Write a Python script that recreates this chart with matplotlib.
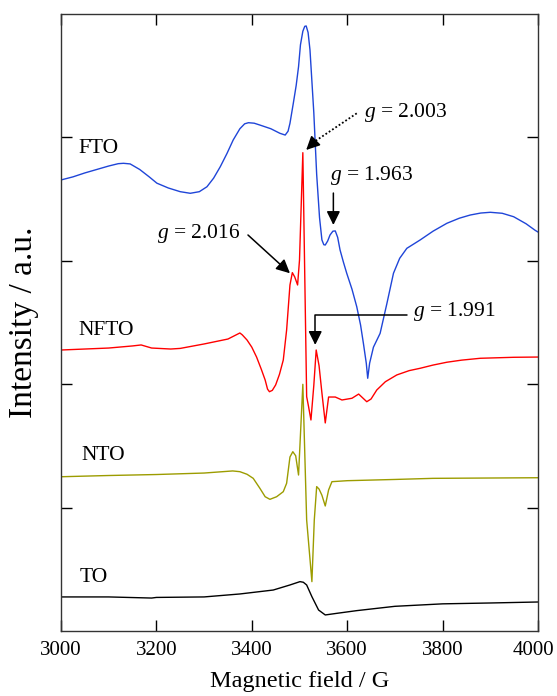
import numpy as np
import matplotlib
matplotlib.use('Agg')
import matplotlib.pyplot as plt
import matplotlib.transforms as mtransforms

plt.rcParams['font.family'] = 'Liberation Serif'
plt.rcParams['mathtext.fontset'] = 'custom'
plt.rcParams['mathtext.rm'] = 'Liberation Serif'
plt.rcParams['mathtext.it'] = 'Liberation Serif:italic'

# spectres RPE (champ en G, intensité décalée en u.a.)
field_fto = [3000, 3025, 3050, 3075, 3100, 3120, 3131, 3145, 3165, 3185, 3201, 3225, 3250, 3271,
             3290, 3306, 3320, 3334, 3348, 3361, 3375, 3385, 3393, 3405, 3417, 3440, 3459, 3470,
             3476, 3480, 3487, 3493, 3498, 3502, 3507, 3511, 3514, 3518, 3522, 3530, 3536, 3542,
             3547, 3551, 3554, 3559, 3564, 3570, 3575, 3580, 3585, 3592, 3599, 3610, 3620, 3628,
             3634, 3640, 3643, 3647, 3655, 3669, 3683, 3697, 3710, 3725, 3753, 3780, 3809, 3835,
             3858, 3880, 3900, 3925, 3949, 3975, 3994, 4000]
int_fto = [3.655, 3.680, 3.712, 3.740, 3.768, 3.787, 3.790, 3.785, 3.740, 3.680, 3.629, 3.590, 3.560, 3.547,
           3.560, 3.600, 3.670, 3.763, 3.870, 3.979, 4.070, 4.110, 4.119, 4.115, 4.100, 4.070, 4.033, 4.019,
           4.050, 4.114, 4.276, 4.420, 4.573, 4.750, 4.860, 4.900, 4.903, 4.850, 4.708, 4.200, 3.700, 3.350,
           3.169, 3.130, 3.128, 3.160, 3.209, 3.240, 3.242, 3.190, 3.088, 2.990, 2.899, 2.770, 2.628, 2.480,
           2.330, 2.170, 2.048, 2.170, 2.300, 2.412, 2.650, 2.899, 3.020, 3.101, 3.169, 3.240, 3.304, 3.345,
           3.371, 3.387, 3.393, 3.385, 3.357, 3.300, 3.247, 3.233]

field_nfto = [3000, 3050, 3100, 3150, 3168, 3190, 3230, 3250, 3300, 3350, 3375, 3380, 3390, 3400,
              3410, 3420, 3428, 3433, 3437, 3443, 3450, 3458, 3466, 3473, 3480, 3485, 3490, 3496,
              3500, 3507, 3515, 3519, 3524, 3530, 3535, 3541, 3547, 3554, 3561, 3575, 3589, 3610,
              3624, 3641, 3650, 3662, 3680, 3704, 3730, 3753, 3780, 3809, 3840, 3879, 3949, 4000]
int_nfto = [2.277, 2.285, 2.293, 2.310, 2.318, 2.293, 2.285, 2.290, 2.326, 2.366, 2.415, 2.400, 2.358, 2.300,
            2.220, 2.120, 2.034, 1.960, 1.939, 1.950, 1.994, 2.080, 2.196, 2.439, 2.804, 2.904, 2.869, 2.804,
            3.006, 3.876, 1.899, 1.818, 1.710, 1.990, 2.277, 2.150, 1.929, 1.686, 1.896, 1.896, 1.872, 1.886,
            1.920, 1.858, 1.880, 1.953, 2.020, 2.075, 2.110, 2.129, 2.155, 2.178, 2.195, 2.210, 2.218, 2.220]

field_nto = [3000, 3100, 3200, 3300, 3360, 3375, 3390, 3403, 3417, 3428, 3438, 3452, 3466, 3473,
             3480, 3486, 3492, 3498, 3507, 3515, 3526, 3531, 3536, 3541, 3547, 3554, 3561, 3568,
             3600, 3700, 3780, 4000]
int_nto = [1.250, 1.260, 1.268, 1.280, 1.297, 1.291, 1.270, 1.237, 1.156, 1.088, 1.067, 1.088, 1.129, 1.197,
           1.410, 1.453, 1.420, 1.264, 1.999, 0.900, 0.400, 0.900, 1.170, 1.150, 1.100, 1.013, 1.143, 1.210,
           1.218, 1.228, 1.237, 1.242]

field_to = [3000, 3100, 3190, 3200, 3300, 3375, 3445, 3480, 3501, 3508, 3515, 3526, 3540, 3554,
            3578, 3620, 3700, 3800, 3900, 4000]
int_to = [0.276, 0.276, 0.267, 0.272, 0.276, 0.300, 0.332, 0.373, 0.400, 0.395, 0.373, 0.278, 0.170, 0.130,
          0.143, 0.165, 0.200, 0.220, 0.227, 0.235]

fig = plt.figure(figsize=(5.57, 6.96), dpi=100)
ax = fig.add_axes([0.1095, 0.0934, 0.8564, 0.8865])

ax.plot(field_fto, int_fto, color='#1f45d8', lw=1.0)
ax.plot(field_nfto, int_nfto, color='#ff0000', lw=1.0)
ax.plot(field_nto, int_nto, color='#9c9c00', lw=1.0)
ax.plot(field_to, int_to, color='black', lw=1.0)

ax.set_xlim(3000, 4000)
ax.set_ylim(0, 5)
ax.set_xticks(np.arange(3000, 4001, 200))
ax.set_yticks([1, 2, 3, 4])
ax.set_yticklabels([])
ax.tick_params(direction='in', length=8, width=1, top=True, right=True, labelsize=15, pad=7)
for s in ax.spines.values():
    s.set_linewidth(1)
    s.set_color('#333333')

# décale un peu le dernier label pour qu'il reste dans l'image
lab = ax.get_xticklabels()[-1]
lab.set_transform(lab.get_transform() + mtransforms.ScaledTranslation(-5/100, 0, fig.dpi_scale_trans))

ax.set_xlabel('Magnetic field / G', fontsize=17.5, labelpad=8)
ax.set_ylabel('Intensity / a.u.', fontsize=24, labelpad=9)

# noms des échantillons
ax.text(3036, 3.914, 'FTO', fontsize=15.5, va='center')
ax.text(3036, 2.439, 'NFTO', fontsize=15.5, va='center')
ax.text(3042, 1.426, 'NTO', fontsize=15.5, va='center')
ax.text(3040, 0.43, 'TO', fontsize=15.5, va='center')

arr = dict(arrowstyle='-|>,head_length=0.55,head_width=0.27', color='black', lw=1.1,
           mutation_scale=15, shrinkA=0, shrinkB=0)

# flèche pointillée g = 2.003
ax.plot([3620, 3533], [4.195, 3.97], color='black', lw=1.3, ls=(0, (1, 1.2)))
ax.annotate('', xy=(3514, 3.898), xytext=(3533, 3.97), arrowprops=arr)
ax.text(3636, 4.198, '$g$ = 2.003', fontsize=15.5, va='center')

ax.annotate('', xy=(3480, 2.899), xytext=(3392, 3.209), arrowprops=arr)
ax.text(3375, 3.225, '$g$ = 2.016', fontsize=15.5, va='center', ha='right')

ax.annotate('', xy=(3571, 3.29), xytext=(3571, 3.549), arrowprops=arr)
ax.text(3564, 3.695, '$g$ = 1.963', fontsize=15.5, va='center')

ax.annotate('', xy=(3533, 2.318), xytext=(3725, 2.561),
            arrowprops=dict(arr, connectionstyle='angle,angleA=0,angleB=90,rad=0'))
ax.text(3738, 2.587, '$g$ = 1.991', fontsize=15.5, va='center')

plt.savefig('out.png', dpi=100)
